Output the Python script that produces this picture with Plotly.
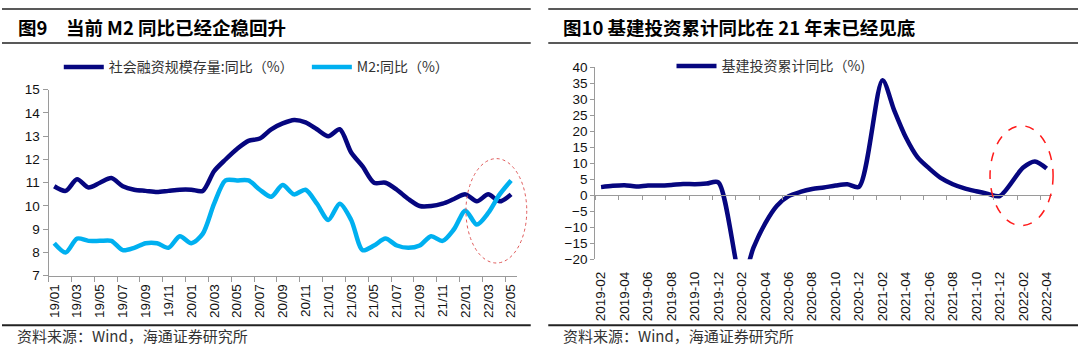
import plotly.graph_objects as go

W, H = 1080, 355

# ---------------- data ----------------
left_months = ["19/01", "19/02", "19/03", "19/04", "19/05", "19/06", "19/07", "19/08", "19/09", "19/10", "19/11", "19/12",
               "20/01", "20/02", "20/03", "20/04", "20/05", "20/06", "20/07", "20/08", "20/09", "20/10", "20/11", "20/12",
               "21/01", "21/02", "21/03", "21/04", "21/05", "21/06", "21/07", "21/08", "21/09", "21/10", "21/11", "21/12",
               "22/01", "22/02", "22/03", "22/04", "22/05"]
tsf_yoy = [10.85, 10.65, 11.15, 10.8, 11.0, 11.2, 10.85, 10.7, 10.65, 10.6, 10.65, 10.7,
           10.7, 10.65, 11.5, 12.0, 12.45, 12.8, 12.9, 13.3, 13.55, 13.7, 13.6, 13.3,
           13.0, 13.3, 12.3, 11.7, 11.0, 11.0, 10.7, 10.3, 10.0, 10.0, 10.1, 10.3,
           10.5, 10.2, 10.5, 10.2, 10.5]
m2_yoy = [8.4, 8.0, 8.6, 8.5, 8.5, 8.5, 8.1, 8.2, 8.4, 8.4, 8.2, 8.7,
          8.4, 8.8, 10.1, 11.1, 11.1, 11.1, 10.7, 10.4, 10.9, 10.5, 10.7, 10.1,
          9.4, 10.1, 9.4, 8.1, 8.3, 8.6, 8.3, 8.2, 8.3, 8.7, 8.5, 9.0,
          9.8, 9.2, 9.7, 10.5, 11.1]

right_months = ["2019-02", "2019-03", "2019-04", "2019-05", "2019-06", "2019-07", "2019-08", "2019-09", "2019-10", "2019-11", "2019-12",
                "2020-01", "2020-02", "2020-03", "2020-04", "2020-05", "2020-06", "2020-07", "2020-08", "2020-09", "2020-10", "2020-11", "2020-12",
                "2021-01", "2021-02", "2021-03", "2021-04", "2021-05", "2021-06", "2021-07", "2021-08", "2021-09", "2021-10", "2021-11", "2021-12",
                "2022-01", "2022-02", "2022-03", "2022-04"]
infra_yoy = [2.5, 2.9, 3.1, 2.7, 3.0, 3.0, 3.2, 3.5, 3.4, 3.6, 4.0,
             None, -26.9, -16.4, -8.8, -3.3, -0.3, 1.0, 1.9, 2.4, 3.0, 3.4, 2.6,
             None, 35.9, 26.5, 18.0, 11.8, 8.3, 5.3, 3.4, 2.1, 1.2, 0.4, -0.3,
             None, 8.6, 10.5, 8.3]

left_title = "图9　当前 M2 同比已经企稳回升"
right_title = "图10 基建投资累计同比在 21 年末已经见底"
source_text = "资料来源：Wind，海通证券研究所"
name_tsf = "社会融资规模存量:同比（%）"
name_m2 = "M2:同比（%）"
name_infra = "基建投资累计同比（%)"

NAVY = "#06067F"
LBLUE = "#00B0F0"
AXIS_GREY = "#9A9A9A"
CJK = "Noto Sans CJK SC"
LATIN = "Liberation Sans, Arial, sans-serif"


def px_x(p):
    return p / W


def px_y(p):
    return 1 - p / H


fig = go.Figure()

fig.add_trace(go.Scatter(x=left_months, y=tsf_yoy, name=name_tsf, mode="lines",
                         line=dict(color=NAVY, width=4.5, shape="spline", smoothing=0.8),
                         xaxis="x", yaxis="y", legend="legend"))
fig.add_trace(go.Scatter(x=left_months, y=m2_yoy, name=name_m2, mode="lines",
                         line=dict(color=LBLUE, width=4.5, shape="spline", smoothing=0.8),
                         xaxis="x", yaxis="y", legend="legend2"))
fig.add_trace(go.Scatter(x=right_months, y=infra_yoy, name=name_infra, mode="lines", connectgaps=True,
                         line=dict(color=NAVY, width=4.5, shape="spline", smoothing=0.8),
                         xaxis="x2", yaxis="y2", legend="legend3"))

tickfont = dict(family=LATIN, size=13.5, color="#111111")

# left plot area: x 46.7..516.7 px, y 86.4..280.6 px
fig.update_layout(
    xaxis=dict(domain=[px_x(46.7), px_x(516.7)], anchor="y", type="category",
               range=[-0.5, len(left_months) - 0.5], tickmode="linear", tick0=0, dtick=2,
               tickson="boundaries", ticks="outside", ticklen=5, tickcolor=AXIS_GREY,
               showline=True, linecolor=AXIS_GREY, linewidth=1, showgrid=False,
               tickangle=-90, tickfont=tickfont, ticklabelstandoff=2),
    yaxis=dict(domain=[px_y(280.6), px_y(86.4)], anchor="x", range=[7, 15], dtick=1,
               ticks="outside", ticklen=5, tickcolor=AXIS_GREY, showline=True,
               linecolor=AXIS_GREY, linewidth=1, showgrid=False, zeroline=False,
               tickfont=tickfont),
    # right plot area: x 595.4..1054.4 px, y 62.7..263.3 px ; zero at 196.7 px
    xaxis2=dict(domain=[px_x(595.4), px_x(1054.4)], anchor="free", position=px_y(196.7),
                type="category", range=[-0.5, len(right_months) - 0.5], tickmode="linear",
                tick0=0, dtick=2, tickson="boundaries", ticks="outside", ticklen=4,
                tickcolor=AXIS_GREY, showline=True, linecolor=AXIS_GREY, linewidth=1,
                showgrid=False, tickangle=-90, tickfont=tickfont, ticklabelstandoff=70),
    yaxis2=dict(domain=[px_y(263.3), px_y(62.7)], anchor="x2", range=[-20, 40], dtick=5,
                ticks="outside", ticklen=4, tickcolor=AXIS_GREY, showline=True,
                linecolor=AXIS_GREY, linewidth=1, showgrid=False, zeroline=False,
                tickfont=tickfont),
)

legfont = dict(family=CJK, size=14, color="#333333")
leg_common = dict(orientation="h", bgcolor="rgba(0,0,0,0)", borderwidth=0, font=legfont,
                  itemwidth=40, yanchor="middle", xanchor="left", tracegroupgap=0)
fig.update_layout(
    legend=dict(x=px_x(57), y=px_y(63), **leg_common),
    legend2=dict(x=px_x(306), y=px_y(63), **leg_common),
    legend3=dict(x=px_x(672), y=px_y(62), **leg_common),
)

# header / footer rules
RULE = "#222222"
shapes = []
for (x0, x1) in [(0, 530.7), (548.3, W)]:
    shapes.append(dict(type="line", xref="paper", yref="paper", x0=px_x(x0), x1=px_x(x1),
                       y0=px_y(2), y1=px_y(2), line=dict(color=RULE, width=1.5)))
    shapes.append(dict(type="line", xref="paper", yref="paper", x0=px_x(x0), x1=px_x(x1),
                       y0=px_y(37.7), y1=px_y(37.7), line=dict(color=RULE, width=1.5)))
    shapes.append(dict(type="line", xref="paper", yref="paper", x0=px_x(x0), x1=px_x(x1),
                       y0=px_y(332.3), y1=px_y(332.3), line=dict(color=RULE, width=2)))
# highlight ellipses
shapes.append(dict(type="circle", xref="paper", yref="paper", x0=px_x(465.7), x1=px_x(526.7),
                   y0=px_y(267.3), y1=px_y(158.3), line=dict(color="#E05A5A", width=1, dash="dot")))
shapes.append(dict(type="circle", xref="paper", yref="paper", x0=px_x(991.7), x1=px_x(1055),
                   y0=px_y(228.3), y1=px_y(124), line=dict(color="#FF1A1A", width=1.5, dash="dash")))

annotations = [
    dict(text="<b>" + left_title + "</b>", x=px_x(13.8), y=px_y(21), xref="paper", yref="paper",
         xanchor="left", yanchor="middle", showarrow=False, font=dict(family=CJK, size=18.5, color="#000000")),
    dict(text="<b>" + right_title + "</b>", x=px_x(561), y=px_y(21), xref="paper", yref="paper",
         xanchor="left", yanchor="middle", showarrow=False, font=dict(family=CJK, size=18.5, color="#000000")),
    dict(text=source_text, x=px_x(13.3), y=px_y(343), xref="paper", yref="paper",
         xanchor="left", yanchor="middle", showarrow=False, font=dict(family=CJK, size=15, color="#333333")),
    dict(text=source_text, x=px_x(560.7), y=px_y(343), xref="paper", yref="paper",
         xanchor="left", yanchor="middle", showarrow=False, font=dict(family=CJK, size=15, color="#333333")),
]

fig.update_layout(
    width=W, height=H, autosize=False,
    margin=dict(l=0, r=0, t=0, b=0, pad=0),
    paper_bgcolor="white", plot_bgcolor="white",
    shapes=shapes, annotations=annotations,
    showlegend=True,
)

fig.write_html(
    "out.html",
    config={"displayModeBar": False},
    post_script="document.body.style.margin='0px';document.body.style.padding='0px';"
                "document.body.style.overflow='hidden';",
)
